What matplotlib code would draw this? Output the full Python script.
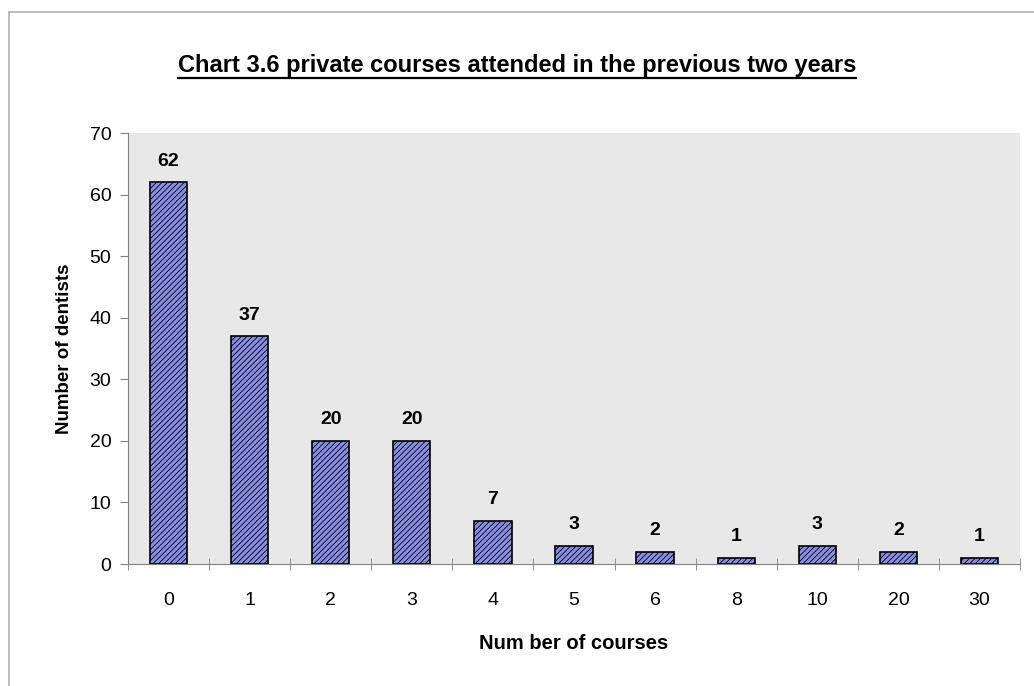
import matplotlib.pyplot as plt
import numpy as np
from matplotlib.lines import Line2D

# données
courses = ["0", "1", "2", "3", "4", "5", "6", "8", "10", "20", "30"]
dentists = [62, 37, 20, 20, 7, 3, 2, 1, 3, 2, 1]
y_ticks = [0, 10, 20, 30, 40, 50, 60, 70]

plt.rcParams['font.family'] = ['Liberation Sans', 'DejaVu Sans']
plt.rcParams['hatch.color'] = '#5a5fc0'
plt.rcParams['hatch.linewidth'] = 0.6

fig = plt.figure(figsize=(10.34, 6.86), dpi=100)
ax = fig.add_axes([0.1238, 0.1778, 0.8627, 0.6283])

# cadre extérieur (haut et gauche seulement visibles)
fig.lines.append(Line2D([0.009, 1.0], [0.983, 0.983], transform=fig.transFigure,
                        color='#b0b0b0', linewidth=1.2))
fig.lines.append(Line2D([0.009, 0.009], [0.0, 0.983], transform=fig.transFigure,
                        color='#b0b0b0', linewidth=1.2))

x = np.arange(len(courses))
ax.bar(x, dentists, width=0.46, color='#8a8ee6', edgecolor='black',
       linewidth=1.2, hatch='//////', zorder=3)

for xi, v in zip(x, dentists):
    ax.annotate(str(v), (xi, v), xytext=(0, 9), textcoords='offset points',
                ha='center', va='bottom', fontsize=14, fontweight='bold')

ax.set_facecolor('#e8e8e8')
ax.set_xlim(-0.5, len(courses) - 0.5)
ax.set_ylim(0, 70)
ax.set_yticks(y_ticks)
ax.tick_params(axis='y', labelsize=14, direction='out', length=6, color='#808080', pad=6)
ax.set_xticks(x)
ax.set_xticklabels(courses, fontsize=14)
ax.tick_params(axis='x', which='major', length=0, pad=20)
ax.set_xticks(np.arange(-0.5, len(courses)), minor=True)
ax.tick_params(axis='x', which='minor', direction='inout', length=8, color='#808080')

for s in ['top', 'right']:
    ax.spines[s].set_visible(False)
for s in ['left', 'bottom']:
    ax.spines[s].set_color('#808080')

ax.set_ylabel('Number of dentists', fontsize=13.5, fontweight='bold', labelpad=12)
ax.set_xlabel('Num ber of courses', fontsize=14.5, fontweight='bold', labelpad=18)

title = fig.text(0.5, 0.895, 'Chart 3.6 private courses attended in the previous two years',
                 ha='center', va='baseline', fontsize=17, fontweight='bold')

# soulignement du titre
fig.canvas.draw()
bb = title.get_window_extent().transformed(fig.transFigure.inverted())
fig.lines.append(Line2D([bb.x0, bb.x1], [0.887, 0.887], transform=fig.transFigure,
                        color='black', linewidth=1.6))

fig.savefig('out.png', dpi=100)
